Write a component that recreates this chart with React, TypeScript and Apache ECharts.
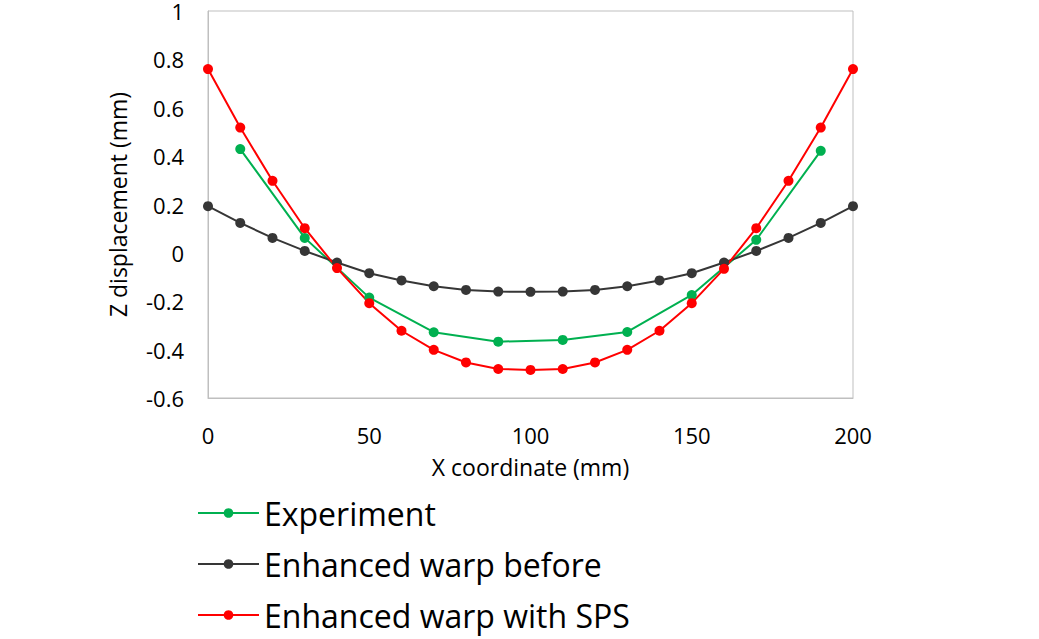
import React, { useEffect, useRef } from "react";
import * as echarts from "echarts";

const xAll = [0, 10, 20, 30, 40, 50, 60, 70, 80, 90, 100, 110, 120, 130, 140, 150, 160, 170, 180, 190, 200];
const xExp = [10, 30, 50, 70, 90, 110, 130, 150, 170, 190];
const experiment = [0.429, 0.062, -0.185, -0.328, -0.367, -0.36, -0.327, -0.174, 0.054, 0.422];
const warpBefore = [0.193, 0.124, 0.062, 0.008, -0.04, -0.084, -0.114, -0.138, -0.153, -0.16, -0.161, -0.16, -0.153, -0.138, -0.114, -0.084, -0.04, 0.008, 0.062, 0.124, 0.193];
const warpSPS = [0.76, 0.518, 0.298, 0.102, -0.063, -0.208, -0.322, -0.401, -0.453, -0.48, -0.484, -0.48, -0.453, -0.401, -0.322, -0.208, -0.066, 0.102, 0.298, 0.518, 0.76];
const seriesNames = ["Experiment", "Enhanced warp before", "Enhanced warp with SPS"];

const FONT = "'Open Sans', sans-serif";

export default function App() {
  const ref = useRef<HTMLDivElement>(null);
  useEffect(() => {
    const chart = echarts.init(ref.current!, undefined, { renderer: "svg" });
    const mk = (name: string, xs: number[], ys: number[], color: string) => ({
      name,
      type: "line",
      data: xs.map((x, i) => [x, ys[i]]),
      symbol: "circle",
      symbolSize: 10,
      lineStyle: { color, width: 2 },
      itemStyle: { color },
      z: 3,
    });
    chart.setOption({
      animation: false,
      textStyle: { fontFamily: FONT },
      grid: { left: 208, right: 186, top: 11, bottom: 241, show: true, borderColor: "#bfbfbf", borderWidth: 1 },
      legend: {
        orient: "vertical",
        left: 192,
        top: 492,
        width: 500,
        height: 220,
        itemWidth: 61,
        itemHeight: 12,
        itemGap: 19,
        textStyle: { fontSize: 32, color: "#000", fontFamily: FONT },
        data: seriesNames,
      },
      xAxis: {
        type: "value",
        min: 0,
        max: 200,
        interval: 50,
        axisLine: { show: true, onZero: false, lineStyle: { color: "#bfbfbf" } },
        axisTick: { show: false },
        splitLine: { show: false },
        axisLabel: { fontSize: 22, color: "#000", margin: 26 },
        name: "X coordinate (mm)",
        nameLocation: "middle",
        nameGap: 57,
        nameTextStyle: { fontSize: 23, color: "#000" },
      },
      yAxis: {
        type: "value",
        min: -0.6,
        max: 1,
        interval: 0.2,
        axisLine: { show: true, lineStyle: { color: "#bfbfbf" } },
        axisTick: { show: false },
        splitLine: { show: false },
        axisLabel: {
          fontSize: 22,
          color: "#000",
          margin: 24,
          formatter: (v: number) => String(parseFloat(v.toFixed(1))),
        },
        name: "Z displacement (mm)",
        nameLocation: "middle",
        nameGap: 79,
        nameTextStyle: { fontSize: 23, color: "#000" },
      },
      series: [
        mk(seriesNames[0], xExp, experiment, "#00b050"),
        mk(seriesNames[1], xAll, warpBefore, "#363636"),
        mk(seriesNames[2], xAll, warpSPS, "#ff0000"),
      ],
    });
    return () => chart.dispose();
  }, []);
  return <div ref={ref} style={{ width: 1039, height: 639, position: "absolute", left: 0, top: 0 }} />;
}
